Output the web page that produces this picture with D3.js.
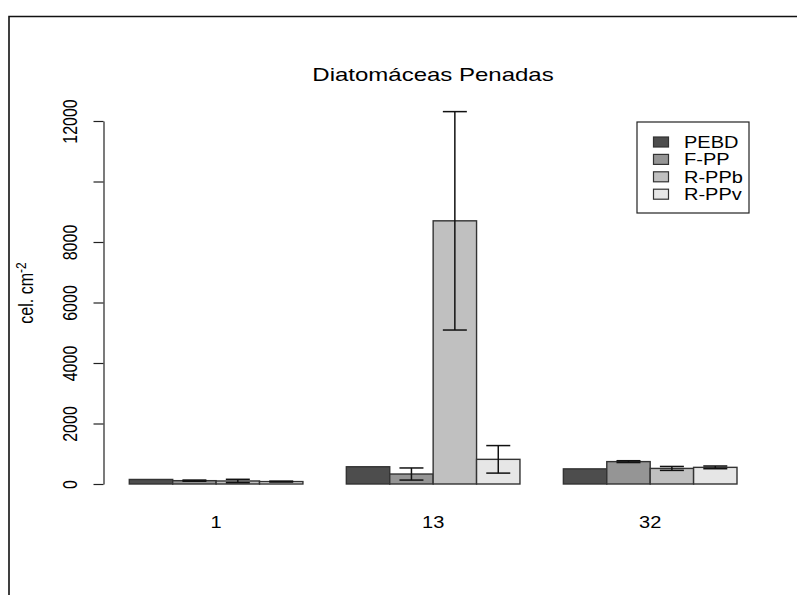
<!DOCTYPE html>
<html>
<head>
<meta charset="utf-8">
<script src="https://cdn.jsdelivr.net/npm/d3@7"></script>
<style>
  body { margin: 0; background: #fff; }
  svg { font-family: "Liberation Sans", Arial, sans-serif; }
</style>
</head>
<body>
<div id="vis"></div>
<script>
const FRAME_WIDTH = 797;
const FRAME_HEIGHT = 595;
// the source picture is stretched sideways, so horizontal text is too
const STRETCH = 1.25;

// data
const GROUPS = ["1", "13", "32"];
const SERIES = ["PEBD", "F-PP", "R-PPb", "R-PPv"];
const COLORS = ["#4d4d4d", "#959595", "#c0c0c0", "#e6e6e6"];
const MEANS = [
  [150, 110, 100, 80],     // 1
  [570, 330, 8700, 815],   // 13
  [500, 740, 515, 550]     // 32
];
const ERRORS = [
  [0, 20, 55, 15],
  [0, 200, 3610, 455],
  [0, 30, 65, 45]
];
const Y_TICKS = [0, 2000, 4000, 6000, 8000, 10000, 12000];
const Y_TICK_LABELS = ["0", "2000", "4000", "6000", "8000", "", "12000"];

const svg = d3.select("#vis")
  .append("svg")
    .attr("width", FRAME_WIDTH)
    .attr("height", FRAME_HEIGHT);

// outer frame (only top and left show)
svg.append("path")
  .attr("d", "M9,595 V16.5 H797")
  .attr("fill", "none")
  .attr("stroke", "#111")
  .attr("stroke-width", 1.6);

// scales
const Y_SCALE = d3.scaleLinear()
  .domain([0, 12000])
  .range([484, 121]);

const X_GROUP = d3.scaleBand()
  .domain(GROUPS)
  .range([129.3, 737])
  .paddingInner(0.2)
  .paddingOuter(0);

const X_BAR = d3.scaleBand()
  .domain(SERIES)
  .range([0, X_GROUP.bandwidth()]);

// bars
const groups = svg.selectAll(".grp")
  .data(GROUPS)
  .enter()
  .append("g")
    .attr("class", "grp")
    .attr("transform", (d) => "translate(" + X_GROUP(d) + ",0)");

groups.selectAll("rect")
  .data((g, gi) => SERIES.map((s, si) => ({s: s, si: si, v: MEANS[gi][si], e: ERRORS[gi][si]})))
  .enter()
  .append("rect")
    .attr("x", (d) => X_BAR(d.s))
    .attr("y", (d) => Y_SCALE(d.v))
    .attr("width", X_BAR.bandwidth())
    .attr("height", (d) => Y_SCALE(0) - Y_SCALE(d.v))
    .attr("fill", (d) => COLORS[d.si])
    .attr("stroke", "#333")
    .attr("stroke-width", 1.4);

// error bars
const CAP = 12;
const errs = groups.selectAll(".err")
  .data((g, gi) => SERIES.map((s, si) => ({s: s, v: MEANS[gi][si], e: ERRORS[gi][si]})).filter((d) => d.e > 0))
  .enter()
  .append("g")
    .attr("class", "err")
    .attr("stroke", "#111")
    .attr("stroke-width", 1.5);

errs.append("line")
  .attr("x1", (d) => X_BAR(d.s) + X_BAR.bandwidth() / 2)
  .attr("x2", (d) => X_BAR(d.s) + X_BAR.bandwidth() / 2)
  .attr("y1", (d) => Y_SCALE(d.v - d.e))
  .attr("y2", (d) => Y_SCALE(d.v + d.e));

[-1, 1].forEach((sign) => {
  errs.append("line")
    .attr("x1", (d) => X_BAR(d.s) + X_BAR.bandwidth() / 2 - CAP)
    .attr("x2", (d) => X_BAR(d.s) + X_BAR.bandwidth() / 2 + CAP)
    .attr("y1", (d) => Y_SCALE(d.v + sign * d.e))
    .attr("y2", (d) => Y_SCALE(d.v + sign * d.e));
});

// y axis
const yAxis = svg.append("g")
  .attr("transform", "translate(103.5,0)")
  .call(d3.axisLeft(Y_SCALE)
    .tickValues(Y_TICKS)
    .tickFormat((d, i) => Y_TICK_LABELS[i])
    .tickSize(10)
    .tickSizeOuter(0));
yAxis.select(".domain").attr("stroke", "#222").attr("stroke-width", 1.2);
yAxis.selectAll(".tick line").attr("stroke", "#222").attr("stroke-width", 1.2);
yAxis.selectAll(".tick text")
  .attr("font-size", "16px")
  .attr("font-family", "Liberation Sans, Arial, sans-serif")
  .attr("fill", "#000")
  .attr("text-anchor", "middle")
  .attr("x", 0)
  .attr("dy", 0)
  .attr("transform", "translate(-33,0) scale(" + STRETCH + ",1) rotate(-90)")
  .attr("dominant-baseline", "central");

// group labels
svg.selectAll(".xlab")
  .data(GROUPS)
  .enter()
  .append("text")
    .attr("class", "xlab")
    .attr("transform", (d) => "translate(" + (X_GROUP(d) + X_GROUP.bandwidth() / 2) + ",528) scale(" + STRETCH + ",1)")
    .attr("text-anchor", "middle")
    .attr("font-size", "16px")
    .text((d) => d);

// title
svg.append("text")
  .attr("transform", "translate(433,81) scale(" + STRETCH + ",1)")
  .attr("text-anchor", "middle")
  .attr("font-size", "19.2px")
  .text("Diatomáceas Penadas");

// y label
const ylab = svg.append("text")
  .attr("transform", "translate(33,293) scale(" + STRETCH + ",1) rotate(-90)")
  .attr("text-anchor", "middle")
  .attr("font-size", "16px");
ylab.append("tspan").text("cel. cm");
ylab.append("tspan").attr("dy", -6).attr("font-size", "12px").text("-2");

// legend
const legend = svg.append("g").attr("transform", "translate(637,122)");
legend.append("rect")
  .attr("width", 112)
  .attr("height", 91)
  .attr("fill", "#fff")
  .attr("stroke", "#222")
  .attr("stroke-width", 1.2);
const items = legend.selectAll(".item")
  .data(SERIES)
  .enter()
  .append("g")
    .attr("class", "item")
    .attr("transform", (d, i) => "translate(0," + (20 + i * 17.4) + ")");
items.append("rect")
  .attr("x", 16.5)
  .attr("y", -5)
  .attr("width", 15)
  .attr("height", 10)
  .attr("fill", (d, i) => COLORS[i])
  .attr("stroke", "#333")
  .attr("stroke-width", 1.2);
items.append("text")
  .attr("transform", "translate(47,6) scale(" + STRETCH + ",1)")
  .attr("font-size", "16px")
  .text((d) => d);
</script>
</body>
</html>
